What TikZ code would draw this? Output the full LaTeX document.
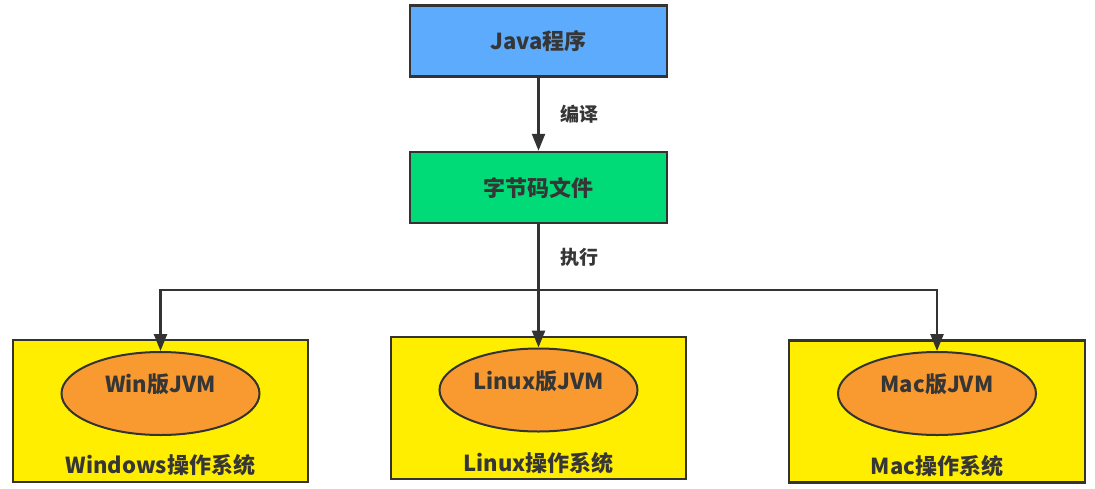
\documentclass[tikz,border=0pt]{standalone}
\usepackage{fontspec}
\usetikzlibrary{shapes.geometric,arrows.meta}
\newfontfamily\cjk{Noto Sans CJK SC}
\definecolor{javablue}{HTML}{5CABFC}
\definecolor{codegreen}{HTML}{00DB78}
\definecolor{osyellow}{HTML}{FFEE00}
\definecolor{jvmorange}{HTML}{F99A30}
\definecolor{edge}{HTML}{333333}
\definecolor{txt}{HTML}{363636}

\begin{document}
\begin{tikzpicture}[x=1pt,y=-1pt, every node/.style={text=txt,font=\cjk\bfseries\fontsize{22}{24}\selectfont},
  box/.style={draw=edge,line width=2.5pt,minimum width=257pt,minimum height=71pt,inner sep=0pt},
  osbox/.style={draw=edge,line width=2.5pt,fill=osyellow,minimum width=295pt,minimum height=142pt,inner sep=0pt},
  jvm/.style={ellipse,draw=edge,line width=2pt,fill=jvmorange,minimum width=198pt,minimum height=83pt,inner sep=0pt},
  wire/.style={draw=edge,line width=2.5pt},
  arr/.style={wire,-{Triangle[length=17pt,width=13pt]}},
  lbl/.style={font=\cjk\bfseries\fontsize{19}{20}\selectfont,anchor=west,xshift=17pt}]
  \fill[white] (0,0) rectangle (1095,488);
  \useasboundingbox (0,0) rectangle (1095,488);

  \node[box,fill=javablue] (java) at (538.5,41) {Java程序};
  \node[box,fill=codegreen] (code) at (538.5,187.5) {字节码文件};
  \coordinate (split) at (538.5,290);

  \node[osbox] (winos) at (160.5,411) {};
  \node[osbox] (linuxos) at (538.5,408) {};
  \node[osbox,minimum width=296pt] (macos) at (937,411.5) {};

  \node[jvm] (winjvm) at (160.5,393.5) {};
  \node[jvm] (linuxjvm) at (538.5,390) {};
  \node[jvm] (macjvm) at (937,393.5) {};

  \node (wintext) at (160.5,384) {Win版JVM};
  \node (linuxtext) at (538.5,381) {Linux版JVM};
  \node (mactext) at (937,384) {Mac版JVM};

  \node (winlabel) at (160.5,465) {Windows操作系统};
  \node (linuxlabel) at (538.5,463) {Linux操作系统};
  \node (maclabel) at (937,466) {Mac操作系统};

  \draw[arr] (java) -- (code) node[lbl,midway] (compile) {编译};
  \draw[wire] (code) -- (split) node[lbl,midway] (execute) {执行};
  \draw[arr] (split) -| (winjvm.north);
  \draw[arr] (split) -- (linuxjvm.north);
  \draw[arr] (split) -| (macjvm.north);
\end{tikzpicture}
\end{document}
